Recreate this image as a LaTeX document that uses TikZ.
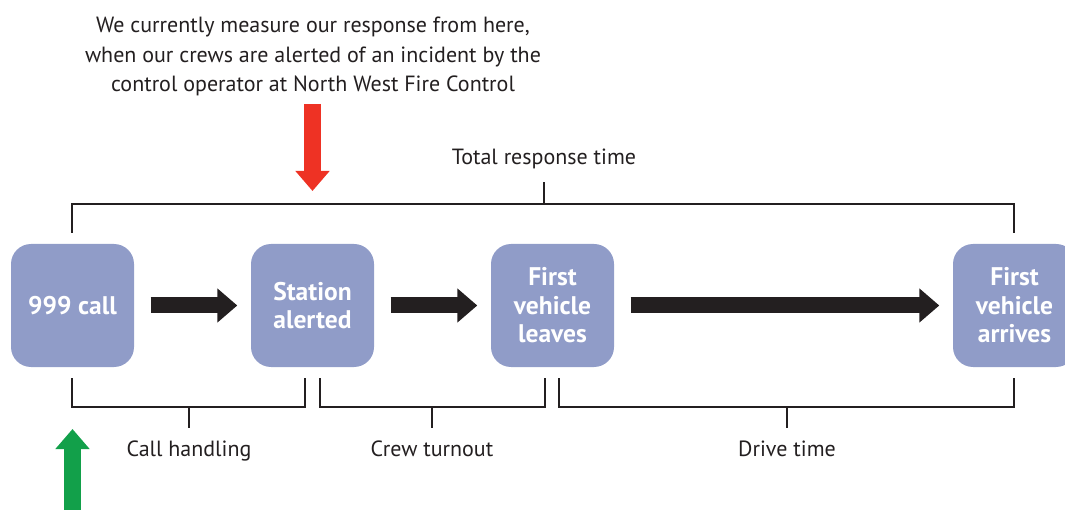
\documentclass[tikz,border=0pt]{standalone}
\usepackage{fontspec}
\setmainfont{PT Sans}
\usetikzlibrary{arrows.meta,calc}
\definecolor{boxblue}{RGB}{144,156,200}
\definecolor{ink}{RGB}{35,31,32}
\definecolor{alertred}{RGB}{238,50,36}
\definecolor{startgreen}{RGB}{18,160,74}
\tikzset{
  stagebox/.style={fill=boxblue, rounded corners=20pt, minimum width=123pt, minimum height=123pt,
    inner sep=0pt, text=white, align=center, font=\bfseries\fontsize{25.5}{28.5}\selectfont},
  flowarrow/.style={ink, line width=16pt, line cap=butt, -{Triangle[length=20pt,width=33pt]},
    shorten <=16.5pt, shorten >=13.5pt},
  bigarrow/.style={line width=17pt, line cap=butt, -{Triangle[length=20pt,width=33pt]}},
  bracket/.style={ink, line width=1.4pt},
  lbl/.style={text=ink, font=\fontsize{22}{29.5}\selectfont, anchor=base, inner sep=0pt, align=center}
}
\begin{document}
\begin{tikzpicture}[x=1pt,y=-1pt]
\useasboundingbox (0,0) rectangle (1065,510);
\clip (0,0) rectangle (1065,510);
% stage boxes
\node[stagebox] (call) at (72.5,305.5) {999 call};
\node[stagebox] (alert) at (312.5,305.5) {Station\\alerted};
\node[stagebox] (leave) at (552.5,305.5) {First\\vehicle\\leaves};
\node[stagebox] (arrive) at (1014.5,305.5) {First\\vehicle\\arrives};
% flow arrows
\draw[flowarrow] (call.east) -- (alert.west);
\draw[flowarrow] (alert.east) -- (leave.west);
\draw[flowarrow] (leave.east) -- (arrive.west);
% top text and red arrow
\node[lbl] (note) at (313,92) {We currently measure our response from here,\\when our crews are alerted of an incident by the\\control operator at North West Fire Control};
\coordinate (redtop) at (312.5,104);
\coordinate (redtip) at (312.5,191);
\draw[bigarrow, alertred] (redtop) -- (redtip);
% total bracket
\draw[bracket] (72,233) -- (72,204) -- (1014,204) -- (1014,233);
\draw[bracket] (544,204) -- (544,182);
\node[lbl] (total) at (544,165) {Total response time};
% bottom brackets
\draw[bracket] (72,378) -- (72,407) -- (305,407) -- (305,378);
\draw[bracket] (189,407) -- (189,428);
\node[lbl] (callh) at (189,456) {Call handling};
\draw[bracket] (320,378) -- (320,407) -- (545,407) -- (545,378);
\draw[bracket] (432,407) -- (432,428);
\node[lbl] (crew) at (432,456) {Crew turnout};
\draw[bracket] (559,378) -- (559,407) -- (1014,407) -- (1014,378);
\draw[bracket] (787,407) -- (787,428);
\node[lbl] (drive) at (787,456) {Drive time};
% green arrow
\coordinate (greenbot) at (72.5,515);
\coordinate (greentip) at (72.5,429);
\draw[bigarrow, startgreen] (greenbot) -- (greentip);
\end{tikzpicture}
\end{document}
